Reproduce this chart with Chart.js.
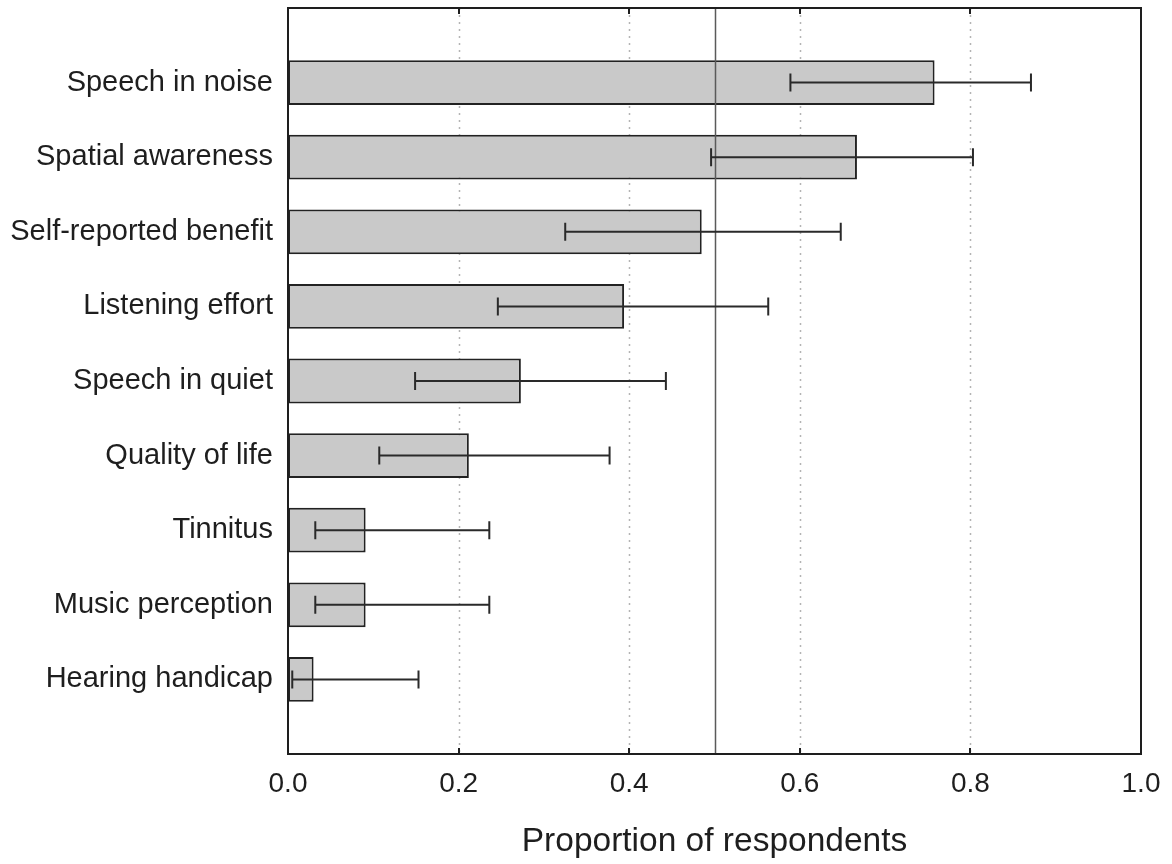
<!DOCTYPE html>
<html>
<head>
<meta charset="utf-8">
<script src="https://cdn.jsdelivr.net/npm/chart.js@4/dist/chart.umd.min.js"></script>
<style>
  html, body { margin: 0; padding: 0; background: #fff; }
  #wrap { width: 1172px; height: 864px; position: relative; }
</style>
</head>
<body>
<div id="wrap"><canvas id="chart" width="1172" height="864"></canvas></div>
<script>
// Outcome domains, ordered from most to least often reported
const categories = [
  'Speech in noise',
  'Spatial awareness',
  'Self-reported benefit',
  'Listening effort',
  'Speech in quiet',
  'Quality of life',
  'Tinnitus',
  'Music perception',
  'Hearing handicap'
];

// Proportion of respondents per domain
const proportions = [0.758, 0.667, 0.485, 0.394, 0.273, 0.212, 0.091, 0.091, 0.030];

// 95% confidence interval bounds
const ciLow  = [0.589, 0.496, 0.325, 0.246, 0.149, 0.107, 0.032, 0.032, 0.005];
const ciHigh = [0.871, 0.803, 0.648, 0.563, 0.443, 0.377, 0.236, 0.236, 0.153];

// x-axis ticks
const xTicks = [0.0, 0.2, 0.4, 0.6, 0.8, 1.0];
const referenceLine = 0.5;

// blank slots above and below the bars leave half-row margins
const yLabels = [''].concat(categories, ['']);
const yData = [null].concat(proportions, [null]);

const FONT = '"Liberation Sans", Arial, Helvetica, sans-serif';
const INK = '#1e1e1e';

const framePlugin = {
  id: 'frameAndErrors',
  beforeDatasetsDraw(chart) {
    const { ctx, chartArea: a, scales: { x } } = chart;
    ctx.save();
    ctx.strokeStyle = '#b4b4b4';
    ctx.lineWidth = 1.5;
    ctx.setLineDash([2, 5]);
    xTicks.forEach(v => {
      if (v <= 0 || v >= 1) return;
      const px = Math.round(x.getPixelForValue(v)) + 0.5;
      ctx.beginPath();
      ctx.moveTo(px, a.top);
      ctx.lineTo(px, a.bottom);
      ctx.stroke();
    });
    ctx.restore();
  },
  afterDatasetsDraw(chart) {
    const { ctx, chartArea: a, scales: { x, y } } = chart;
    ctx.save();
    // reference line at one half
    const rx = Math.round(x.getPixelForValue(referenceLine)) + 0.5;
    ctx.strokeStyle = '#5a5a5a';
    ctx.lineWidth = 1.5;
    ctx.beginPath();
    ctx.moveTo(rx, a.top);
    ctx.lineTo(rx, a.bottom);
    ctx.stroke();

    // confidence interval whiskers
    ctx.strokeStyle = '#2a2a2a';
    ctx.lineWidth = 2;
    const cap = 9;
    categories.forEach((c, i) => {
      const cy = y.getPixelForValue(i + 1);
      const x0 = x.getPixelForValue(ciLow[i]);
      const x1 = x.getPixelForValue(ciHigh[i]);
      ctx.beginPath();
      ctx.moveTo(x0, cy);
      ctx.lineTo(x1, cy);
      ctx.moveTo(x0, cy - cap);
      ctx.lineTo(x0, cy + cap);
      ctx.moveTo(x1, cy - cap);
      ctx.lineTo(x1, cy + cap);
      ctx.stroke();
    });

    // plot frame
    ctx.strokeStyle = INK;
    ctx.lineWidth = 2;
    ctx.strokeRect(a.left, a.top, a.right - a.left, a.bottom - a.top);

    // inward tick marks on top and bottom edges
    ctx.lineWidth = 2;
    xTicks.forEach(v => {
      if (v <= 0 || v >= 1) return;
      const px = Math.round(x.getPixelForValue(v));
      ctx.beginPath();
      ctx.moveTo(px, a.bottom);
      ctx.lineTo(px, a.bottom - 6);
      ctx.moveTo(px, a.top);
      ctx.lineTo(px, a.top + 6);
      ctx.stroke();
    });
    ctx.restore();
  }
};

new Chart(document.getElementById('chart'), {
  type: 'bar',
  data: {
    labels: yLabels,
    datasets: [{
      data: yData,
      backgroundColor: '#c9c9c9',
      borderColor: '#222222',
      borderWidth: 2,
      borderSkipped: false,
      barPercentage: 0.6,
      categoryPercentage: 1.0
    }]
  },
  options: {
    indexAxis: 'y',
    responsive: false,
    animation: false,
    devicePixelRatio: 1,
    layout: { padding: { top: 8, right: 31, left: 0, bottom: 0 } },
    plugins: { legend: { display: false }, tooltip: { enabled: false } },
    scales: {
      x: {
        type: 'linear',
        min: 0,
        max: 1,
        afterBuildTicks(scale) {
          scale.ticks = xTicks.map(v => ({ value: v }));
        },
        grid: { display: false, drawTicks: false },
        border: { display: false },
        ticks: {
          padding: 13,
          color: INK,
          font: { family: FONT, size: 28 },
          callback: v => Number(v).toFixed(1),
          maxRotation: 0
        },
        title: {
          display: true,
          text: 'Proportion of respondents',
          color: INK,
          font: { family: FONT, size: 33.5 },
          padding: { top: 0, bottom: 2 }
        },
        afterFit(scale) {
          scale.height = 110;
          scale.paddingLeft = 0;
          scale.paddingRight = 0;
        }
      },
      y: {
        type: 'category',
        offset: false,
        grid: { display: false, drawTicks: false },
        border: { display: false },
        ticks: {
          padding: 15,
          color: INK,
          autoSkip: false,
          font: { family: FONT, size: 29 }
        },
        afterFit(scale) {
          scale.width = 288;
          scale.paddingTop = 0;
          scale.paddingBottom = 0;
        }
      }
    }
  },
  plugins: [framePlugin]
});
</script>
</body>
</html>
